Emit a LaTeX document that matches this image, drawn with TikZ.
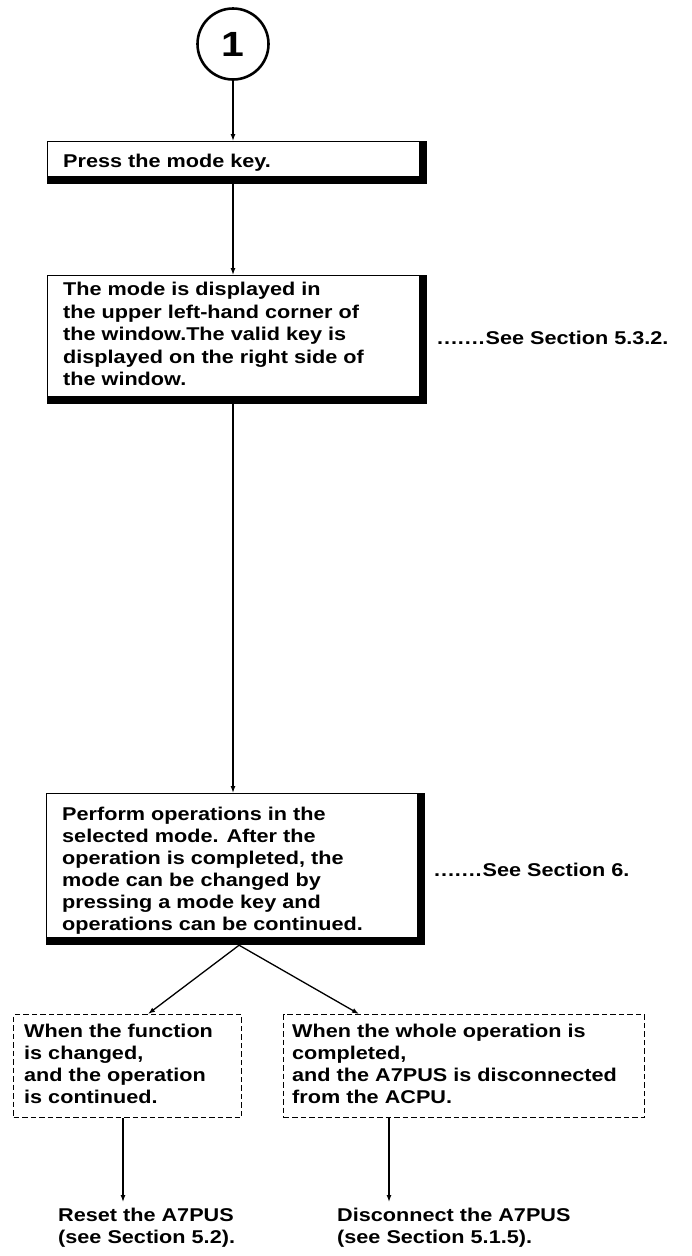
\documentclass[tikz,border=0pt]{standalone}
\usepackage{fontspec}
\setmainfont{Liberation Sans}[FakeStretch=1.17]
\usetikzlibrary{arrows.meta}
\newcommand\mydots{.\kern0.9pt.\kern0.9pt.\kern0.9pt.\kern0.9pt.\kern0.9pt.\kern0.9pt.\kern0.9pt}
\begin{document}
\begin{tikzpicture}[x=1pt,y=-1pt,
  txt/.style={font=\fontsize{18.5}{22.5}\selectfont\bfseries, align=left, inner sep=0pt, anchor=north west},
  dtxt/.style={font=\fontsize{18.5}{22}\selectfont\bfseries, align=left, inner sep=0pt, anchor=north west},
  mbox/.style={draw, line width=1.2pt, inner sep=0pt, anchor=north west},
  dbox/.style={draw, line width=1.4pt, dash pattern=on 5.5pt off 3pt, inner sep=0pt, anchor=north west},
  arr/.style={line width=1.3pt, -{Latex[length=7pt,width=5pt]}},
  shade/.style={fill=black}]
\useasboundingbox (0,0) rectangle (692,1256);

% start circle
\node[circle, draw, line width=2.6pt, minimum size=71pt, inner sep=0pt,
      font=\fontsize{35}{35}\selectfont\bfseries] (c) at (233,44) {1};

% box 1
\node[mbox, minimum width=372pt, minimum height=35pt] (b1) at (47,141) {};
\fill[shade] (b1.north east) rectangle ([xshift=7pt,yshift=-7pt]b1.south east);
\fill[shade] (b1.south west) rectangle ([xshift=7pt,yshift=-7pt]b1.south east);
\node[txt] (t1) at (63,154) {Press the mode key.};

% box 2
\node[mbox, minimum width=372pt, minimum height=121pt] (b2) at (47,275) {};
\fill[shade] (b2.north east) rectangle ([xshift=7pt,yshift=-7pt]b2.south east);
\fill[shade] (b2.south west) rectangle ([xshift=7pt,yshift=-7pt]b2.south east);
\node[txt] (t2) at (63,282) {The mode is displayed in\\the upper left-hand corner of\\the window.The valid key is\\displayed on the right side of\\the window.};
\node[txt, anchor=west] (r1) at (437,338) {\mydots See Section 5.3.2.};

% box 3
\node[mbox, minimum width=371pt, minimum height=144pt] (b3) at (46,793) {};
\fill[shade] (b3.north east) rectangle ([xshift=7pt,yshift=-7pt]b3.south east);
\fill[shade] (b3.south west) rectangle ([xshift=7pt,yshift=-7pt]b3.south east);
\node[txt, font=\fontsize{18.5}{22}\selectfont\bfseries] (t3) at (62,807) {Perform operations in the\\selected mode. After the\\operation is completed, the\\mode can be changed by\\pressing a mode key and\\operations can be continued.};
\node[txt, anchor=west] (r2) at (434,870) {\mydots See Section 6.};

% dashed boxes
\node[dbox, minimum width=228pt, minimum height=103pt] (d1) at (13,1014) {};
\node[dtxt] (dt1) at (24,1024) {When the function\\is changed,\\and the operation\\is continued.};
\node[dbox, minimum width=361pt, minimum height=103pt] (d2) at (283,1014) {};
\node[dtxt] (dt2) at (292,1024) {When the whole operation is\\completed,\\and the A7PUS is disconnected\\from the ACPU.};

% bottom texts
\node[dtxt] (e1t) at (58,1208) {Reset the A7PUS\\(see Section 5.2).};
\node[dtxt] (e2t) at (337,1208) {Disconnect the A7PUS\\(see Section 5.1.5).};

% coordinates
\coordinate (b1s) at ([yshift=-7pt]b1.south);
\coordinate (b2s) at ([yshift=-7pt]b2.south);
\coordinate (sp) at ([xshift=7pt,yshift=-7pt]b3.south);
\coordinate (a1) at (148,1014);
\coordinate (a2) at (359,1014);
\coordinate (e1) at (123,1202);
\coordinate (e2) at (389,1202);

% connectors
\draw[arr] (c) -- (c |- b1.north);
\draw[arr] (b1s -| c) -- (c |- b2.north);
\draw[arr] (b2s -| c) -- (c |- b3.north);
\draw[arr] (sp) -- (a1);
\draw[arr] (sp) -- (a2);
\draw[arr] (d1.south -| e1) -- (e1);
\draw[arr] (d2.south -| e2) -- (e2);
\end{tikzpicture}
\end{document}
